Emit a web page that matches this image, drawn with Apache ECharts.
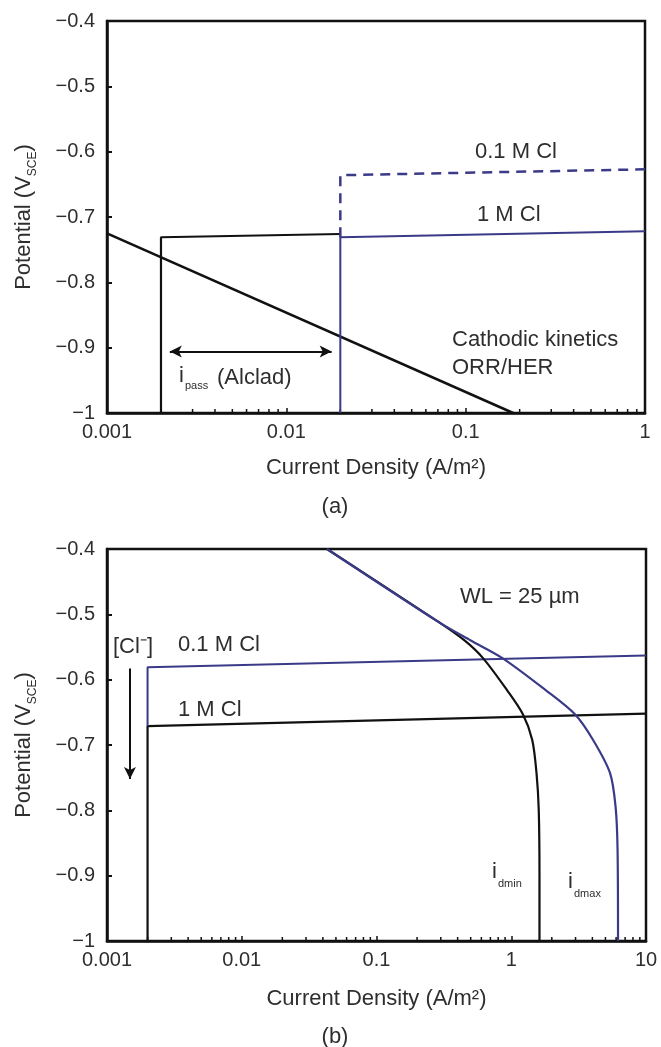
<!DOCTYPE html>
<html>
<head>
<meta charset="utf-8">
<script src="https://cdn.jsdelivr.net/npm/echarts@6/dist/echarts.min.js"></script>
<style>
  html, body { margin: 0; padding: 0; background: #fff; }
  #chart { width: 661px; height: 1047px; }
</style>
</head>
<body>
<div id="chart"></div>
<script>
// ---- data, (a) ----
var cathodicA = [[0.001, -0.725], [0.184, -1]];
var alcladA = [[0.002, -1], [0.002, -0.731], [0.02, -0.726]];
var cl1A = [[0.02, -1], [0.02, -0.731], [1, -0.722]];
var cl01A = [[0.02, -0.731], [0.02, -0.636], [1, -0.627]];
var passArrowA = [[0.00224, -0.906], [0.0179, -0.906]];
var minorTicksA = [0.002, 0.003, 0.004, 0.005, 0.006, 0.007, 0.008, 0.009,
  0.02, 0.03, 0.04, 0.05, 0.06, 0.07, 0.08, 0.09,
  0.2, 0.3, 0.4, 0.5, 0.6, 0.7, 0.8, 0.9];

// ---- data, (b) ----
var cl01B = [[0.002, -0.671], [0.002, -0.581], [10, -0.563]];
var cl1B = [[0.002, -1], [0.002, -0.671], [10, -0.652]];
var idminB = [[0.0429, -0.4], [0.29, -0.512], [0.45, -0.54], [0.617, -0.567],
  [0.93, -0.616], [1.22, -0.653], [1.43, -0.692], [1.54, -0.743],
  [1.6, -0.8], [1.62, -0.9], [1.62, -1]];
var idmaxB = [[0.0429, -0.4], [0.29, -0.512], [0.5, -0.54], [0.86, -0.567],
  [1.8, -0.616], [2.97, -0.653], [4.04, -0.692], [5.41, -0.743],
  [5.95, -0.795], [6.15, -0.86], [6.2, -1]];
var clArrowB = [[0.00148, -0.583], [0.00148, -0.752]];
var minorTicksB = [0.002, 0.003, 0.004, 0.005, 0.006, 0.007, 0.008, 0.009,
  0.02, 0.03, 0.04, 0.05, 0.06, 0.07, 0.08, 0.09,
  0.2, 0.3, 0.4, 0.5, 0.6, 0.7, 0.8, 0.9,
  2, 3, 4, 5, 6, 7, 8, 9];

var yMin = -1, yMax = -0.4, yStep = 0.1;

var FONT = "'Liberation Sans', Arial, Helvetica, sans-serif";
var TXT = '#2e2e2e';
var BLUE = '#3b3a88';
var BLACK = '#111';

var chart = echarts.init(document.getElementById('chart'));

function xAxisOf(idx, max) {
  return {
    type: 'log', logBase: 10, gridIndex: idx, min: 0.001, max: max,
    name: 'Current Density (A/m²)', nameLocation: 'middle',
    nameGap: idx === 0 ? 44 : 47,
    nameTextStyle: { fontFamily: FONT, fontSize: 22, color: TXT },
    axisLine: { show: true, lineStyle: { color: BLACK, width: 2.5 } },
    axisTick: { show: true, inside: true, length: 5, lineStyle: { color: BLACK, width: 1.5 } },
    minorTick: { show: false },
    splitLine: { show: false },
    axisLabel: {
      fontFamily: FONT, fontSize: 20, color: TXT, margin: 9,
      showMinLabel: true, showMaxLabel: true,
      formatter: function (v) { return String(parseFloat(v.toPrecision(3))); }
    }
  };
}

function yAxisOf(idx) {
  return {
    type: 'value', gridIndex: idx, min: yMin, max: yMax, interval: yStep,
    name: 'Potential (V{sub|SCE})', nameLocation: 'middle', nameRotate: 90, nameGap: 68,
    nameTextStyle: {
      fontFamily: FONT, fontSize: 22, color: TXT,
      rich: { sub: { fontFamily: FONT, fontSize: 12, color: TXT, verticalAlign: 'bottom', lineHeight: 30 } }
    },
    axisLine: { show: true, lineStyle: { color: BLACK, width: 2.5 } },
    axisTick: { show: true, inside: true, length: 5, lineStyle: { color: BLACK, width: 2 } },
    splitLine: { show: false },
    axisLabel: {
      fontFamily: FONT, fontSize: 20, color: TXT, margin: 12,
      formatter: function (v) {
        var r = Math.round(v * 10) / 10;
        return r === -1 ? '\u22121' : '\u2212' + Math.abs(r).toFixed(1);
      }
    }
  };
}

function lineSeries(idx, data, color, width, dashed) {
  return {
    type: 'line', xAxisIndex: idx, yAxisIndex: idx, data: data,
    showSymbol: false, symbol: 'none', animation: false, silent: true,
    lineStyle: { color: color, width: width, type: dashed ? [10, 7] : 'solid' }
  };
}

function curveSeries(idx, data, color) {
  var s = lineSeries(idx, data, color, 2.2, false);
  s.smooth = 0.3;
  return s;
}

function tickSeries(idx, vals) {
  return {
    type: 'custom', xAxisIndex: idx, yAxisIndex: idx, silent: true, animation: false,
    data: vals.map(function (v) { return [v, yMin]; }),
    renderItem: function (params, api) {
      var p = api.coord([api.value(0), api.value(1)]);
      return {
        type: 'line',
        shape: { x1: p[0], y1: p[1], x2: p[0], y2: p[1] - 4 },
        style: { stroke: BLACK, lineWidth: 1.5 }
      };
    }
  };
}

function arrowMark(pts, symbols) {
  return {
    silent: true, animation: false,
    symbol: symbols, symbolSize: [9, 12],
    label: { show: false },
    lineStyle: { color: BLACK, width: 2, type: 'solid' },
    data: [[{ coord: pts[0] }, { coord: pts[1] }]]
  };
}

function txt(x, y, s, size, align) {
  return {
    type: 'text', x: x, y: y, silent: true,
    style: {
      text: s, fontFamily: FONT, fontSize: size || 22, fill: TXT,
      align: align || 'left', verticalAlign: 'middle',
      textAlign: align || 'left', textVerticalAlign: 'middle'
    }
  };
}

var cathA = lineSeries(0, cathodicA, BLACK, 2.5, false);
cathA.markLine = arrowMark(passArrowA, ['arrow', 'arrow']);
var blackB = lineSeries(1, cl1B, BLACK, 2.2, false);
blackB.markLine = arrowMark(clArrowB, ['none', 'arrow']);

chart.setOption({
  backgroundColor: '#fff',
  animation: false,
  grid: [
    { left: 107, right: 16, top: 21, height: 392, show: true, borderColor: BLACK, borderWidth: 2.5, backgroundColor: 'transparent' },
    { left: 107, right: 15, top: 549, height: 392, show: true, borderColor: BLACK, borderWidth: 2.5, backgroundColor: 'transparent' }
  ],
  xAxis: [xAxisOf(0, 1), xAxisOf(1, 10)],
  yAxis: [yAxisOf(0), yAxisOf(1)],
  series: [
    cathA,
    lineSeries(0, alcladA, BLACK, 2.2, false),
    lineSeries(0, cl1A, BLUE, 2, false),
    lineSeries(0, cl01A, BLUE, 2.5, true),
    tickSeries(0, minorTicksA),
    blackB,
    lineSeries(1, cl01B, BLUE, 2, false),
    curveSeries(1, idminB, BLACK),
    curveSeries(1, idmaxB, BLUE),
    tickSeries(1, minorTicksB)
  ],
  graphic: [
    // (a)
    txt(475, 152, '0.1 M Cl'),
    txt(477, 215, '1 M Cl'),
    txt(452, 340, 'Cathodic kinetics'),
    txt(452, 368, 'ORR/HER'),
    txt(179, 376, 'i'),
    txt(185, 386, 'pass', 11),
    txt(217, 378, '(Alclad)'),
    txt(335, 507, '(a)', 22, 'center'),
    // (b)
    txt(460, 597, 'WL = 25 µm'),
    txt(113, 647, '[Cl\u207B]'),
    txt(178, 645, '0.1 M Cl'),
    txt(178, 710, '1 M Cl'),
    txt(492, 872, 'i'),
    txt(498, 884, 'dmin', 11),
    txt(568, 882, 'i'),
    txt(574, 894, 'dmax', 11),
    txt(335, 1037, '(b)', 22, 'center')
  ]
});
</script>
</body>
</html>
